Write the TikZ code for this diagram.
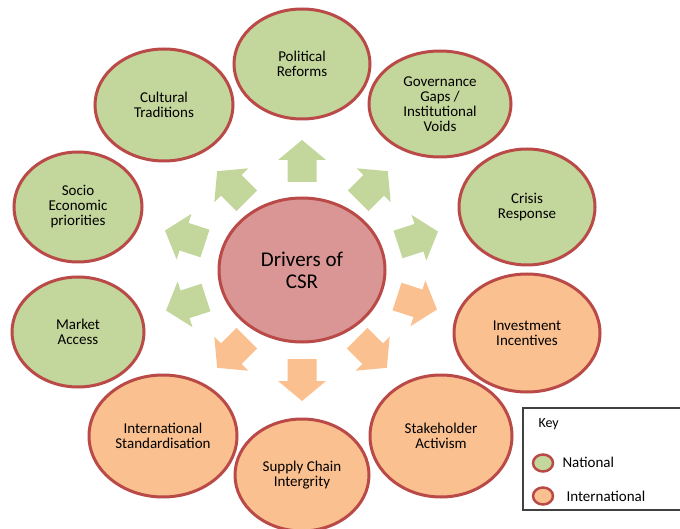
\documentclass[tikz,border=0pt]{standalone}
\usepackage{fontspec}
\setmainfont{Carlito}
\usetikzlibrary{shapes.geometric}
\definecolor{G}{RGB}{195, 214, 155}
\definecolor{O}{RGB}{250, 192, 143}
\definecolor{R}{RGB}{217, 150, 148}
\definecolor{Rb}{RGB}{185, 74, 72}
\tikzset{
  burbuja/.style={ellipse, draw=Rb, line width=3pt, align=center, inner sep=0pt,
    font=\fontsize{15}{15}\selectfont},
  nac/.style={burbuja, fill=G},
  inter/.style={burbuja, fill=O}
}

\begin{document}
\begin{tikzpicture}[x=1pt,y=1pt]
   	\useasboundingbox (0,0) rectangle (680,528);

	%Flechas
	\foreach \a/\x/\y/\c in {90/302/367/G, 45/373/342/G, 18/418/290/G,
	   -18/417/225/O, -45/372/175/O, -90/302/148/O, -135/232/175/O,
	   -162/186/224/G, 162/185/291/G, 135/232/342/G}
	   \fill[color=\c, shift={(\x,\y)}, rotate=\a]
	      (-21,-14.5) -- (1,-14.5) -- (1,-24) -- (21,0) -- (1,24) -- (1,14.5) -- (-21,14.5) -- cycle;

	%Centro
   	\node[burbuja, fill=R, minimum width=166pt, minimum height=144pt,
   	   font=\fontsize{21}{22}\selectfont] (csr) at (302,258) {Drivers of\\CSR};

	%Nacionales
   	\node[nac, minimum width=136pt, minimum height=110pt] (pol) at (302,464) {Political\\Reforms};
   	\node[nac, minimum width=142pt, minimum height=106pt] (gov) at (440,424) {Governance\\Gaps /\\Institutional\\Voids};
   	\node[nac, minimum width=136pt, minimum height=116pt] (cri) at (527,321) {Crisis\\Response};
   	\node[nac, minimum width=132pt, minimum height=110pt] (mar) at (78,196) {Market\\Access};
   	\node[nac, minimum width=128pt, minimum height=110pt] (soc) at (78,321) {Socio\\Economic\\priorities};
   	\node[nac, minimum width=138pt, minimum height=112pt] (cul) at (164,423) {Cultural\\Traditions};

	%Internacionales
   	\node[inter, minimum width=146pt, minimum height=118pt] (inv) at (527,195) {Investment\\Incentives};
   	\node[inter, minimum width=142pt, minimum height=122pt] (sta) at (441,92) {Stakeholder\\Activism};
   	\node[inter, minimum width=134pt, minimum height=112pt] (sup) at (302,53) {Supply Chain\\Intergrity};
   	\node[inter, minimum width=148pt, minimum height=122pt] (int) at (163,92) {International\\Standardisation};

	%Clave
   	\draw[line width=1.2pt, color=black!75] (523,18) rectangle (686,120);
   	\node[anchor=west, font=\fontsize{14}{14}\selectfont] (key) at (535,104) {Key};
   	\node[ellipse, draw=Rb, fill=G, line width=2.5pt, minimum width=20pt, minimum height=17pt] (kn) at (543,65) {};
   	\node[ellipse, draw=Rb, fill=O, line width=2.5pt, minimum width=20pt, minimum height=17pt] (ki) at (543,32) {};
   	\node[anchor=west, font=\fontsize{15}{15}\selectfont] (knt) at (559,66) {National};
   	\node[anchor=west, font=\fontsize{15}{15}\selectfont] (kit) at (563,32) {International};
 \end{tikzpicture}
\end{document}
